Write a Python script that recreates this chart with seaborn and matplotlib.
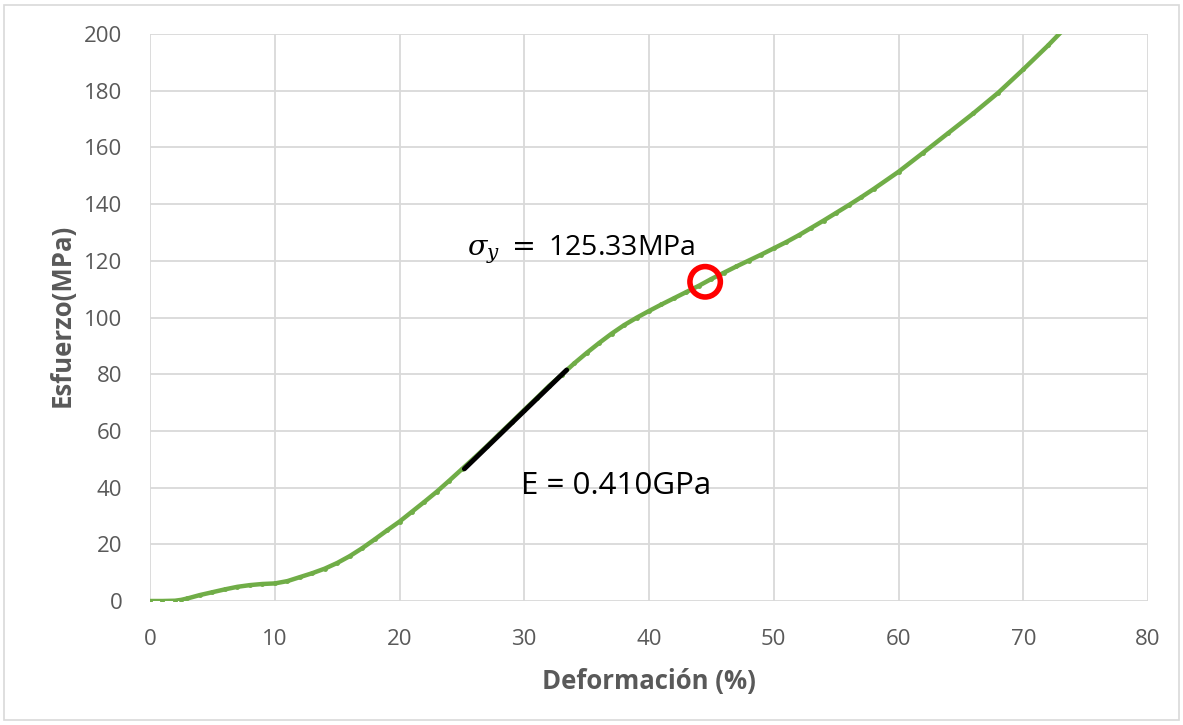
import matplotlib
matplotlib.use("Agg")
import matplotlib.pyplot as plt
import seaborn as sns
import pandas as pd
from matplotlib.patches import Rectangle

# Data
strain = [0, 1, 2, 2.5, 3, 4, 5, 6, 7, 8, 9, 10, 11, 12, 13, 14, 15, 16, 17, 18,
          19, 20, 21, 22, 23, 24, 25, 26, 27, 28, 29, 30, 31, 32, 33, 34, 35, 36,
          37, 38, 39, 40, 41, 42, 43, 44, 45, 46, 47, 48, 49, 50, 51, 52, 53, 54,
          55, 56, 57, 58, 60, 62, 64, 66, 68, 70, 72, 73.1]
stress = [0, 0, 0.1, 0.4, 0.9, 2.1, 3.1, 4.1, 5.0, 5.6, 6.0, 6.2, 7.0, 8.4, 9.8,
          11.4, 13.4, 15.8, 18.6, 21.7, 24.9, 28.0, 31.5, 35.0, 38.6, 42.5, 46.5,
          50.5, 54.6, 58.9, 63.1, 67.4, 71.6, 75.9, 79.8, 83.8, 87.5, 91.0, 94.3,
          97.3, 99.9, 102.3, 104.6, 106.8, 109.0, 111.2, 113.6, 115.8, 118.0,
          120.1, 122.2, 124.4, 126.6, 129.0, 131.6, 134.2, 136.9, 139.6, 142.4,
          145.3, 151.4, 158.2, 165.1, 172.0, 179.3, 187.5, 196.0, 201.0]
fit_x = [25.2, 33.4]
fit_y = [46.6, 81.5]
yield_x = [44.5]
yield_y = [112.6]
xticks = [0, 10, 20, 30, 40, 50, 60, 70, 80]
yticks = [0, 20, 40, 60, 80, 100, 120, 140, 160, 180, 200]
sigma_label = r"$\sigma_y\;=\;$125.33MPa"
e_label = "E = 0.410GPa"

sns.set_theme(style="white")
plt.rcParams['font.family'] = ['Open Sans', 'DejaVu Sans']
plt.rcParams['mathtext.fontset'] = 'dejavuserif'

fig = plt.figure(figsize=(11.83, 7.25), dpi=100)
ax = fig.add_axes([150/1183, 1-601/725, (1148-150)/1183, (601-34)/725])

df = pd.DataFrame({"x": strain, "y": stress})
sns.lineplot(data=df, x="x", y="y", ax=ax, color="#70AD47", linewidth=3.2,
             marker="o", markersize=3.5, markeredgewidth=0, zorder=3)
sns.lineplot(x=fit_x, y=fit_y, ax=ax, color="black", linewidth=3.5, zorder=4)
sns.scatterplot(x=yield_x, y=yield_y, ax=ax, s=480, facecolor="none",
                edgecolor="#FF0000", linewidth=4, zorder=5)

ax.set_xlim(0, 80)
ax.set_ylim(0, 200)
ax.set_xticks(xticks)
ax.set_yticks(yticks)
ax.grid(True, color="#D9D9D9", linewidth=1.3)
ax.set_axisbelow(True)
for s in ax.spines.values():
    s.set_visible(False)
ax.tick_params(axis="both", length=0, labelsize=16, labelcolor="#595959")
ax.tick_params(axis="y", pad=20)
ax.tick_params(axis="x", pad=20)
ax.set_xlabel("Deformación (%)", fontsize=18.5, fontweight="bold", color="#595959")
ax.set_ylabel("Esfuerzo(MPa)", fontsize=18.5, fontweight="bold", color="#595959")
ax.xaxis.set_label_coords((649 - 150) / (1148 - 150), -(681 - 601) / (601 - 34))
ax.yaxis.set_label_coords(-(150 - 62) / (1148 - 150), (601 - 315) / (601 - 34))
ax.xaxis.label.set_va("center")
ax.yaxis.label.set_va("center")

ax.text(467/1183, 1-250/725, sigma_label, transform=fig.transFigure, fontsize=20.5,
        color="black", va="center", ha="left")
ax.text(521/1183, 1-486/725, e_label, transform=fig.transFigure, fontsize=22.5,
        color="black", va="center", ha="left")

fig.patches.append(Rectangle((4/1183, 5/725), (1179-4)/1183, (720-5)/725,
                             transform=fig.transFigure, fill=False,
                             edgecolor="#D9D9D9", linewidth=1.2))

fig.savefig("out.png", dpi=100, facecolor="white")
